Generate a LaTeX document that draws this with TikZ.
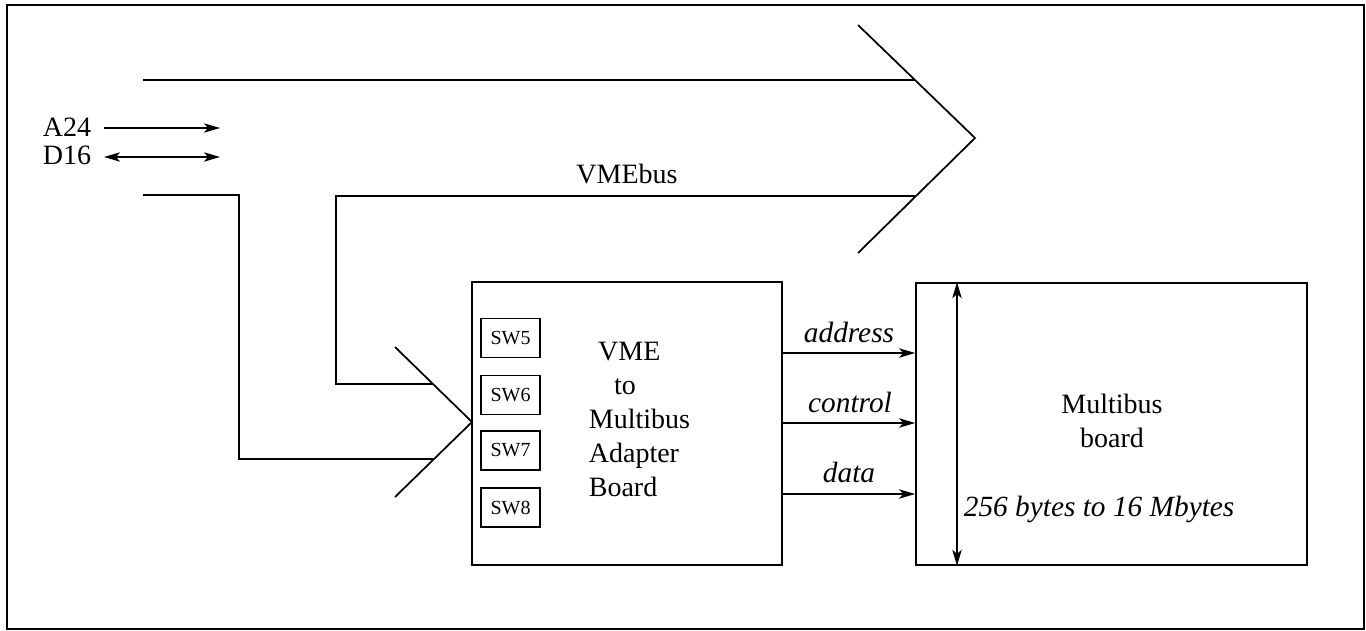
\documentclass[tikz,border=0pt]{standalone}
\usepackage{fontspec}
\setmainfont{Liberation Serif}
\usetikzlibrary{arrows.meta}
\begin{document}
\begin{tikzpicture}[x=0.75pt,y=-0.75pt,
  line width=1.3pt,
  lbl/.style={font=\fontsize{21}{25.5}\selectfont, inner sep=0pt},
  ilbl/.style={font=\fontsize{22}{26}\selectfont\itshape, inner sep=0pt},
  swbox/.style={draw, line width=1pt, minimum width=44.25pt, minimum height=29.25pt, inner sep=0pt, font=\fontsize{15}{18}\selectfont},
  board/.style={draw, inner sep=0pt},
  arr/.style={-{Stealth[length=12pt,width=7pt,inset=3pt]}},
  darr/.style={{Stealth[length=12pt,width=7pt,inset=3pt]}-{Stealth[length=12pt,width=7pt,inset=3pt]}}
]
\useasboundingbox (0,0) rectangle (1366,631);
% frame
\draw (7,5) rectangle (1364,629);

% VMEbus (big arrow)
\draw (143,80) -- (915,80);
\draw (858,25) -- (975,138) -- (858,253);
\draw (143,195) -- (239,195) -- (239,459) -- (433,459);
\draw (916,196) -- (336,196) -- (336,384) -- (433,384);
\draw (395,347) -- (472,422) -- (395,497);
\node[lbl, anchor=base] (vmebus) at (627,183) {VMEbus};

% A24 / D16
\node[lbl, anchor=west] (a24) at (42,127) {A24};
\node[lbl, anchor=west] (d16) at (42,155) {D16};
\coordinate (a24e) at (220,128);
\coordinate (d16e) at (220,157);
\coordinate (a24s) at (104,128);
\coordinate (d16s) at (104,157);
\draw[arr] (a24s) -- (a24e);
\draw[darr] (d16s) -- (d16e);

% adapter board
\node[board, minimum width=232.5pt, minimum height=212.25pt] (adapter) at (627,423.5) {};
\node[swbox] (sw5) at (510.5,338) {SW5};
\node[swbox] (sw6) at (510.5,395) {SW6};
\node[swbox] (sw7) at (510.5,450.5) {SW7};
\node[swbox] (sw8) at (510.5,507.5) {SW8};
\node[lbl, anchor=north west, align=left] (adlbl) at (588,341)
  {\hspace{7pt}VME\\\hspace{19pt}to\\Multibus\\Adapter\\Board};

% multibus board
\node[board, minimum width=293.25pt, minimum height=211.5pt] (mb) at (1111.5,424) {};
\node[lbl, align=center] (mblbl) at (1112,421) {Multibus\\board};
\node[ilbl, anchor=base west] (size) at (963,516) {256 bytes to 16 Mbytes};
\draw[darr] (mb.north -| 957,0) -- (mb.south -| 957,0);

% signal arrows
\draw[arr] (adapter.east |- 0,353) -- (mb.west |- 0,353);
\draw[arr] (adapter.east |- 0,423) -- (mb.west |- 0,423);
\draw[arr] (adapter.east |- 0,494) -- (mb.west |- 0,494);
\node[ilbl, anchor=base] (addr) at (849,342) {address};
\node[ilbl, anchor=base] (ctrl) at (850,412) {control};
\node[ilbl, anchor=base] (data) at (849,482) {data};
\end{tikzpicture}
\end{document}
